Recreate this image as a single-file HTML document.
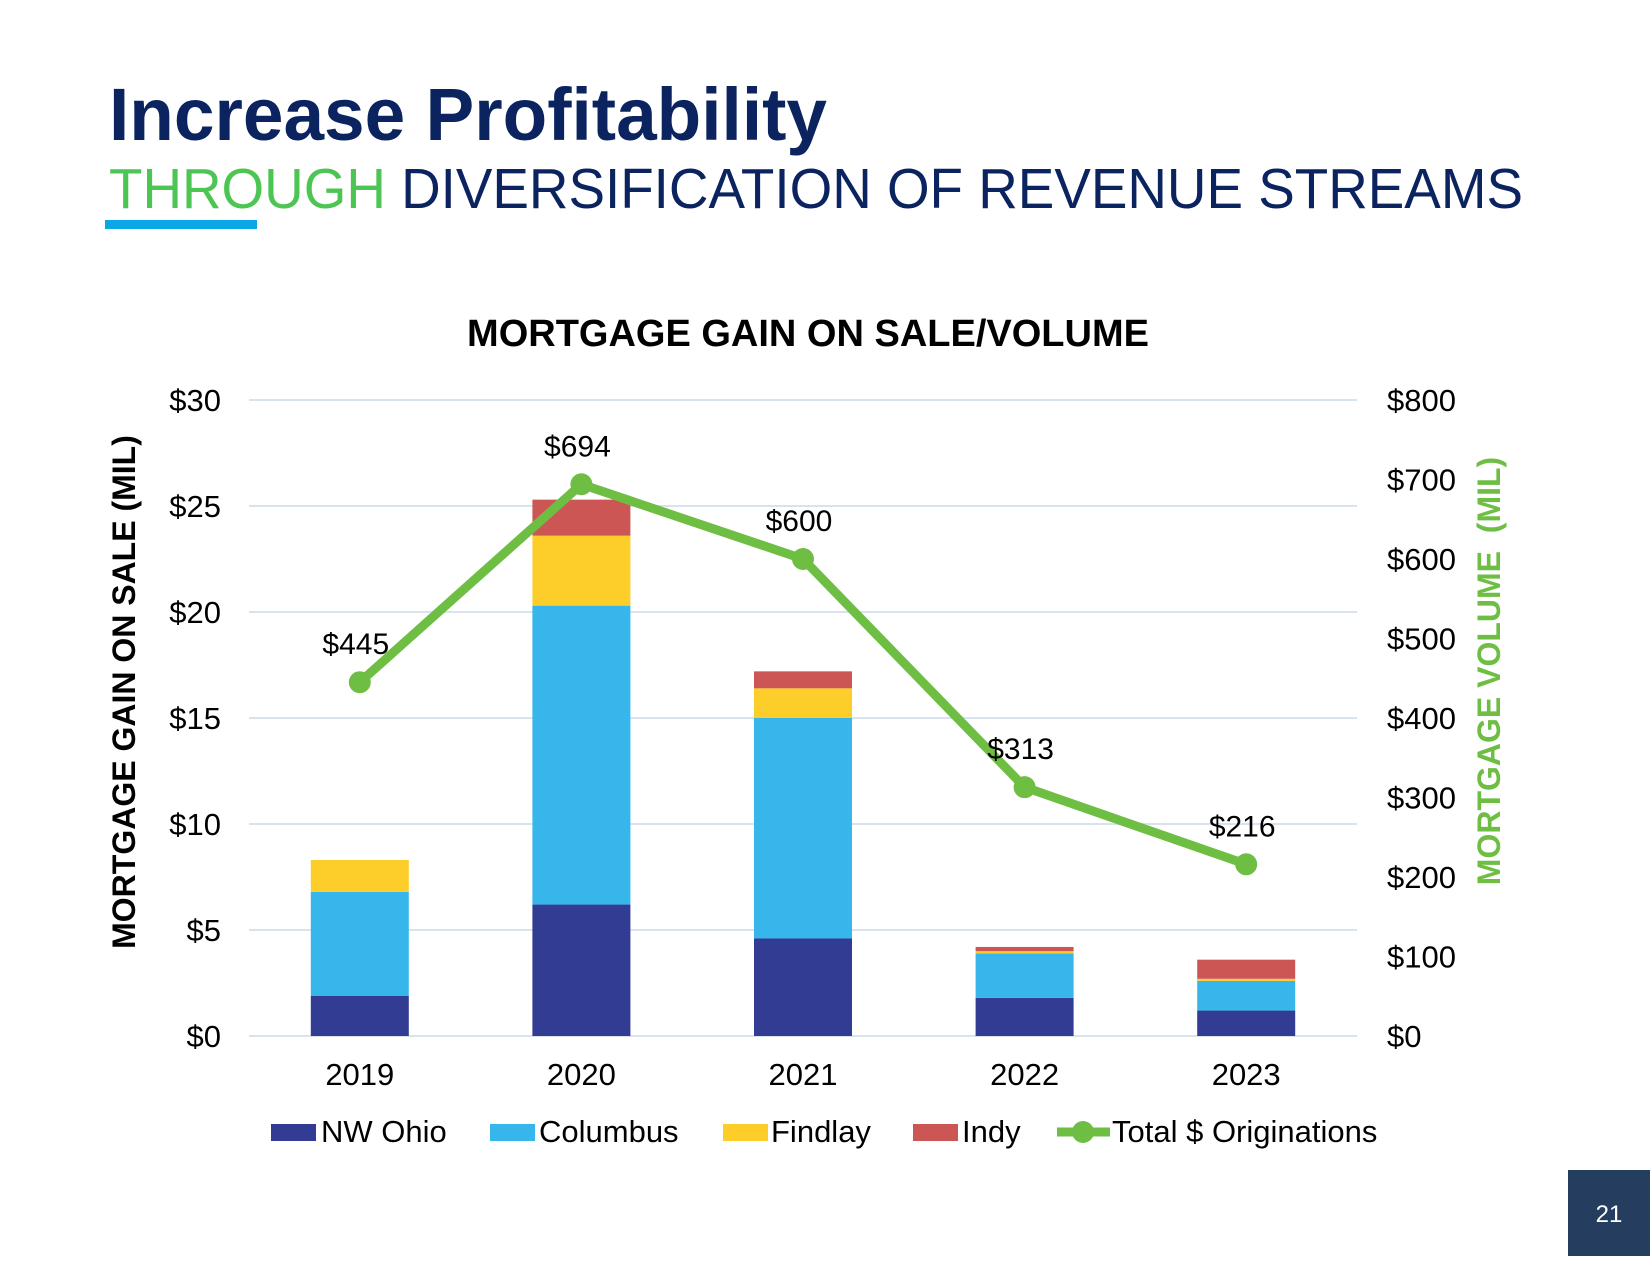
<!DOCTYPE html>
<html><head><meta charset="utf-8"><style>
html,body{margin:0;padding:0;background:#fff;}
svg{display:block;font-family:"Liberation Sans",Arial,sans-serif;}
</style></head><body>
<svg id="chart" width="1650" height="1275" viewBox="0 0 1650 1275">
<text x="109" y="140" font-size="74" font-weight="bold" fill="#0b2460" textLength="718" lengthAdjust="spacingAndGlyphs">Increase Profitability</text>
<text x="109" y="208" font-size="57" textLength="1414" lengthAdjust="spacingAndGlyphs"><tspan fill="#4cc552">THROUGH</tspan><tspan fill="#0b2460"> DIVERSIFICATION OF REVENUE STREAMS</tspan></text>
<rect x="105" y="220" width="152" height="9" fill="#0aa6e6"/>
<text x="808" y="346" font-size="38" font-weight="bold" text-anchor="middle" fill="#000">MORTGAGE GAIN ON SALE/VOLUME</text>
<text transform="translate(135,692) rotate(-90)" font-size="32" font-weight="bold" text-anchor="middle" fill="#000">MORTGAGE GAIN ON SALE (MIL)</text>
<text transform="translate(1500,671) rotate(-90)" font-size="32" font-weight="bold" text-anchor="middle" fill="#6fbe44" xml:space="preserve">MORTGAGE VOLUME  (MIL)</text>
<g id="grid"></g><g id="bars"></g><g id="line"></g><g id="labels"></g>
<g id="legend"></g>
<rect x="1568" y="1170" width="82" height="86" fill="#253d5e"/>
<text x="1609" y="1222" font-size="24" fill="#fff" text-anchor="middle">21</text>
</svg>
<script>
const categories=["2019","2020","2021","2022","2023"];
const nwOhio=[1.9,6.2,4.6,1.8,1.2];
const columbus=[4.9,14.1,10.4,2.1,1.4];
const findlay=[1.5,3.3,1.4,0.1,0.1];
const indy=[0,1.7,0.8,0.2,0.9];
const originations=[445,694,600,313,216];
const originationLabels=["$445","$694","$600","$313","$216"];
const leftTicks=[0,5,10,15,20,25,30];
const rightTicks=[0,100,200,300,400,500,600,700,800];

const NS="http://www.w3.org/2000/svg";
const L=249,R=1357,T=400,B=1036;
const yL=v=>B-(v/30)*(B-T);
const yR=v=>B-(v/800)*(B-T);
const step=(R-L)/categories.length;
const xC=i=>L+step*(i+0.5);
const bw=98;
function mk(tag,attrs,parent,txt){const e=document.createElementNS(NS,tag);for(const k in attrs)e.setAttribute(k,attrs[k]);if(txt!==undefined)e.textContent=txt;parent.appendChild(e);return e;}
const grid=document.getElementById('grid');
leftTicks.forEach(v=>{
  const l=mk('line',{x1:L,x2:R,y1:yL(v),y2:yL(v),stroke:'#d9e3f0','stroke-width':2},grid);
  
  
  const t=mk('text',{x:221,y:yL(v)+11,'font-size':31,'text-anchor':'end',fill:'#000'},grid,'$'+v);
  
  
});
rightTicks.forEach(v=>{
  const t=mk('text',{x:1387,y:yR(v)+11,'font-size':31,fill:'#000'},grid,'$'+v);
  
  
});
categories.forEach((c,i)=>{
  const t=mk('text',{x:xC(i),y:1085,'font-size':31,'text-anchor':'middle',fill:'#000'},grid,c);
  
  
});
const series=[[nwOhio,'#323c93','nw-ohio'],[columbus,'#37b6ec','columbus'],[findlay,'#fdcd29','findlay'],[indy,'#cc5653','indy']];
const bars=document.getElementById('bars');
categories.forEach((c,i)=>{
  let base=0;
  series.forEach(([arr,col,nm])=>{
    const v=arr[i];
    if(v>0){
      const r=mk('rect',{x:xC(i)-bw/2,y:yL(base+v),width:bw,height:yL(base)-yL(base+v),fill:col},bars);
      
      
    }
    base+=v;
  });
});
const lg=document.getElementById('line');
const pts=originations.map((v,i)=>xC(i)+','+yR(v)).join(' ');
const pl=mk('polyline',{points:pts,fill:'none',stroke:'#6fbe44','stroke-width':9,'stroke-linejoin':'round'},lg);


const lab=document.getElementById('labels');
originations.forEach((v,i)=>{
  const c=mk('circle',{cx:xC(i),cy:yR(v),r:11,fill:'#6fbe44'},lg);
  
  
  const t=mk('text',{x:xC(i)-4,y:yR(v)-28,'font-size':30,'text-anchor':'middle',fill:'#000'},lab,originationLabels[i]);
  
  
});
const legend=document.getElementById('legend');
const items=[[271,'#323c93','NW Ohio',321],[490,'#37b6ec','Columbus',539],[723,'#fdcd29','Findlay',771],[913,'#cc5653','Indy',962]];
items.forEach(([x,col,name,tx])=>{
  const r=mk('rect',{x:x,y:1124,width:45,height:17,fill:col},legend);
  
  
  const t=mk('text',{x:tx,y:1142,'font-size':31,fill:'#000'},legend,name);
  
  
});
const ll=mk('line',{x1:1057,x2:1110,y1:1132,y2:1132,stroke:'#6fbe44','stroke-width':9},legend);


const lc=mk('circle',{cx:1083,cy:1132,r:11,fill:'#6fbe44'},legend);


const lt=mk('text',{x:1112,y:1142,'font-size':31,fill:'#000'},legend,'Total $ Originations');


</script>
</body></html>
